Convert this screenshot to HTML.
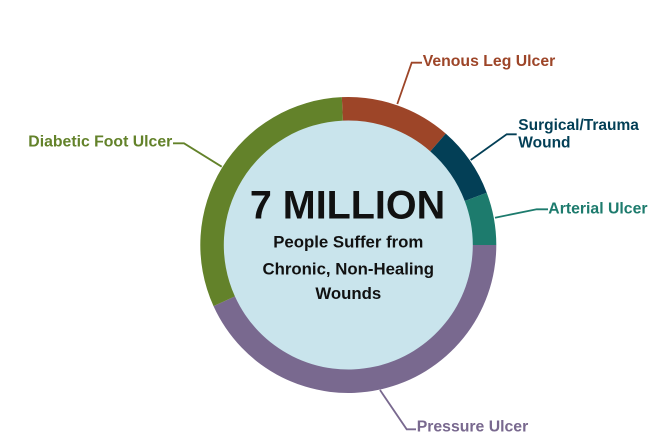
<!DOCTYPE html>
<html>
<head>
<meta charset="utf-8">
<style>
  html, body { margin:0; padding:0; background:#ffffff; }
  body { width:659px; height:447px; overflow:hidden; }
  svg { display:block; }
  text { font-family: "Liberation Sans", Arial, sans-serif; font-weight:bold; }
</style>
</head>
<body>
<svg width="659" height="447" viewBox="0 0 659 447" xmlns="http://www.w3.org/2000/svg">
  <!-- inner circle -->
  <circle cx="348.3" cy="245" r="125" fill="#C9E4EC"/>

  <!-- ring segments -->
  <!-- Venous -->
  <path d="M341.84,97.14 A148,148 0 0 1 445.79,133.64 L430.31,151.32 A124.5,124.5 0 0 0 342.87,120.62 Z" fill="#9D4528"/>
  <!-- Surgical -->
  <path d="M445.79,133.64 A148,148 0 0 1 486.74,192.69 L464.76,200.99 A124.5,124.5 0 0 0 430.31,151.32 Z" fill="#033F56"/>
  <!-- Arterial -->
  <path d="M486.74,192.69 A148,148 0 0 1 496.3,245 L472.8,245 A124.5,124.5 0 0 0 464.76,200.99 Z" fill="#1D7B6D"/>
  <!-- Pressure -->
  <path d="M496.3,245 A148,148 0 0 1 213.52,306.14 L234.92,296.43 A124.5,124.5 0 0 0 472.8,245 Z" fill="#79698F"/>
  <!-- Diabetic -->
  <path d="M213.52,306.14 A148,148 0 0 1 341.84,97.14 L342.87,120.62 A124.5,124.5 0 0 0 234.92,296.43 Z" fill="#63822A"/>

  <!-- leader lines -->
  <polyline points="397.3,104 411.7,62.7 422,62.7" fill="none" stroke="#9D4528" stroke-width="1.8"/>
  <polyline points="470.7,160 506.7,134.3 516.7,134.3" fill="none" stroke="#033F56" stroke-width="1.8"/>
  <polyline points="495,217.7 536.7,209.3 548,209.3" fill="none" stroke="#1D7B6D" stroke-width="1.8"/>
  <polyline points="380,390 406.7,429.3 416,429.3" fill="none" stroke="#79698F" stroke-width="1.8"/>
  <polyline points="221.7,166.7 184,143.3 173,143.3" fill="none" stroke="#63822A" stroke-width="1.8"/>

  <!-- labels -->
  <text x="422.7" y="66" font-size="15.8" fill="#9D4528">Venous Leg Ulcer</text>
  <text x="518.3" y="130" font-size="15.5" fill="#033F56">Surgical/Trauma</text>
  <text x="518.3" y="147.7" font-size="15.5" fill="#033F56">Wound</text>
  <text x="548.3" y="213.3" font-size="15.8" fill="#1D7B6D">Arterial Ulcer</text>
  <text x="416.7" y="431.7" font-size="15.8" fill="#79698F">Pressure Ulcer</text>
  <text x="28.3" y="146.7" font-size="15.8" fill="#63822A">Diabetic Foot Ulcer</text>

  <!-- center text -->
  <text x="347.5" y="218.3" font-size="39.5" fill="#111111" text-anchor="middle">7 MILLION</text>
  <text x="348.3" y="247.7" font-size="16.8" fill="#111111" text-anchor="middle">People Suffer from</text>
  <text x="348.3" y="274.3" font-size="16.8" fill="#111111" text-anchor="middle">Chronic, Non-Healing</text>
  <text x="348.3" y="299" font-size="16.8" fill="#111111" text-anchor="middle">Wounds</text>
</svg>
</body>
</html>
